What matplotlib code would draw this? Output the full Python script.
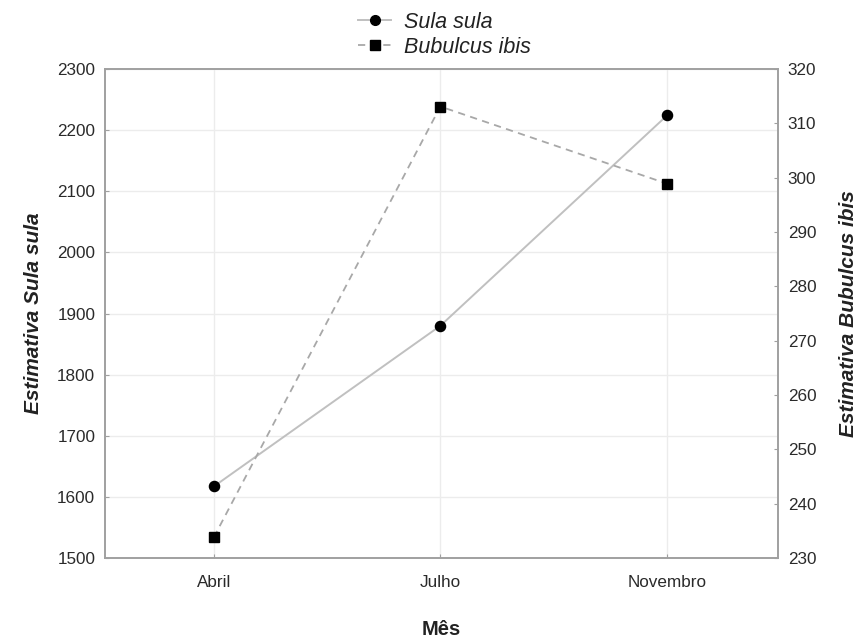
import matplotlib
matplotlib.use("Agg")
import matplotlib.pyplot as plt
from matplotlib.lines import Line2D

plt.rcParams['font.family'] = ['Liberation Sans', 'DejaVu Sans']

meses = ["Abril", "Julho", "Novembro"]
sula_sula = [1617, 1880, 2224]
bubulcus_ibis = [233.8, 313.1, 298.9]
left_ticks = [1500, 1600, 1700, 1800, 1900, 2000, 2100, 2200, 2300]
right_ticks = [230, 240, 250, 260, 270, 280, 290, 300, 310, 320]

fig = plt.figure(figsize=(8.58, 6.38), dpi=100)
ax = fig.add_axes([0.1224, 0.1254, 0.7844, 0.7664])
ax2 = ax.twinx()

x = list(range(len(meses)))
ax.plot(x, sula_sula, color='#c0c0c0', lw=1.4, ls='-', zorder=3)
ax.plot(x, sula_sula, ls='none', marker='o', ms=7.3, color='black', zorder=4)
ax2.plot(x, bubulcus_ibis, color='#a8a8a8', lw=1.3, ls=(0, (4, 3)), zorder=3)
ax2.plot(x, bubulcus_ibis, ls='none', marker='s', ms=6.8, color='black', zorder=4)

ax.set_xlim(-0.48, 2.49)
ax.set_ylim(1500, 2300)
ax2.set_ylim(230, 320)
ax.set_xticks(x)
ax.set_xticklabels(meses)
ax.set_yticks(left_ticks)
ax2.set_yticks(right_ticks)

ax.grid(True, color='#ececec', lw=1.0, zorder=0)
ax.set_axisbelow(True)

for a in (ax, ax2):
    for s in a.spines.values():
        s.set_color('#a0a0a0')
        s.set_linewidth(1.2)
    a.tick_params(direction='in', length=3, color='#a0a0a0', labelsize=12.3,
                  labelcolor='#2a2a2a', pad=7)
ax.tick_params(axis='x', pad=12)

ax.set_ylabel("Estimativa Sula sula", fontsize=15, fontweight='bold', style='italic',
              color='#222222', labelpad=10)
ax2.set_ylabel("Estimativa Bubulcus ibis", fontsize=15, fontweight='bold', style='italic',
               color='#222222', labelpad=16)
ax.set_xlabel("Mês", fontsize=14.5, fontweight='bold', color='#222222', labelpad=22)

handles = [
    Line2D([], [], color='#c0c0c0', lw=1.4, marker='o', ms=7, mfc='black', mec='black'),
    Line2D([], [], color='#a8a8a8', lw=1.3, ls=(0, (4, 3)), marker='s', ms=6.5, mfc='black', mec='black'),
]
leg = fig.legend(handles, ["Sula sula", "Bubulcus ibis"], loc='upper center',
                 bbox_to_anchor=(0.518, 1.012), frameon=False, handlelength=1.5,
                 prop={'style': 'italic', 'size': 15.5}, labelspacing=0.2,
                 handletextpad=0.6)
for t in leg.get_texts():
    t.set_color('#222222')

fig.savefig("out.png", dpi=100)
